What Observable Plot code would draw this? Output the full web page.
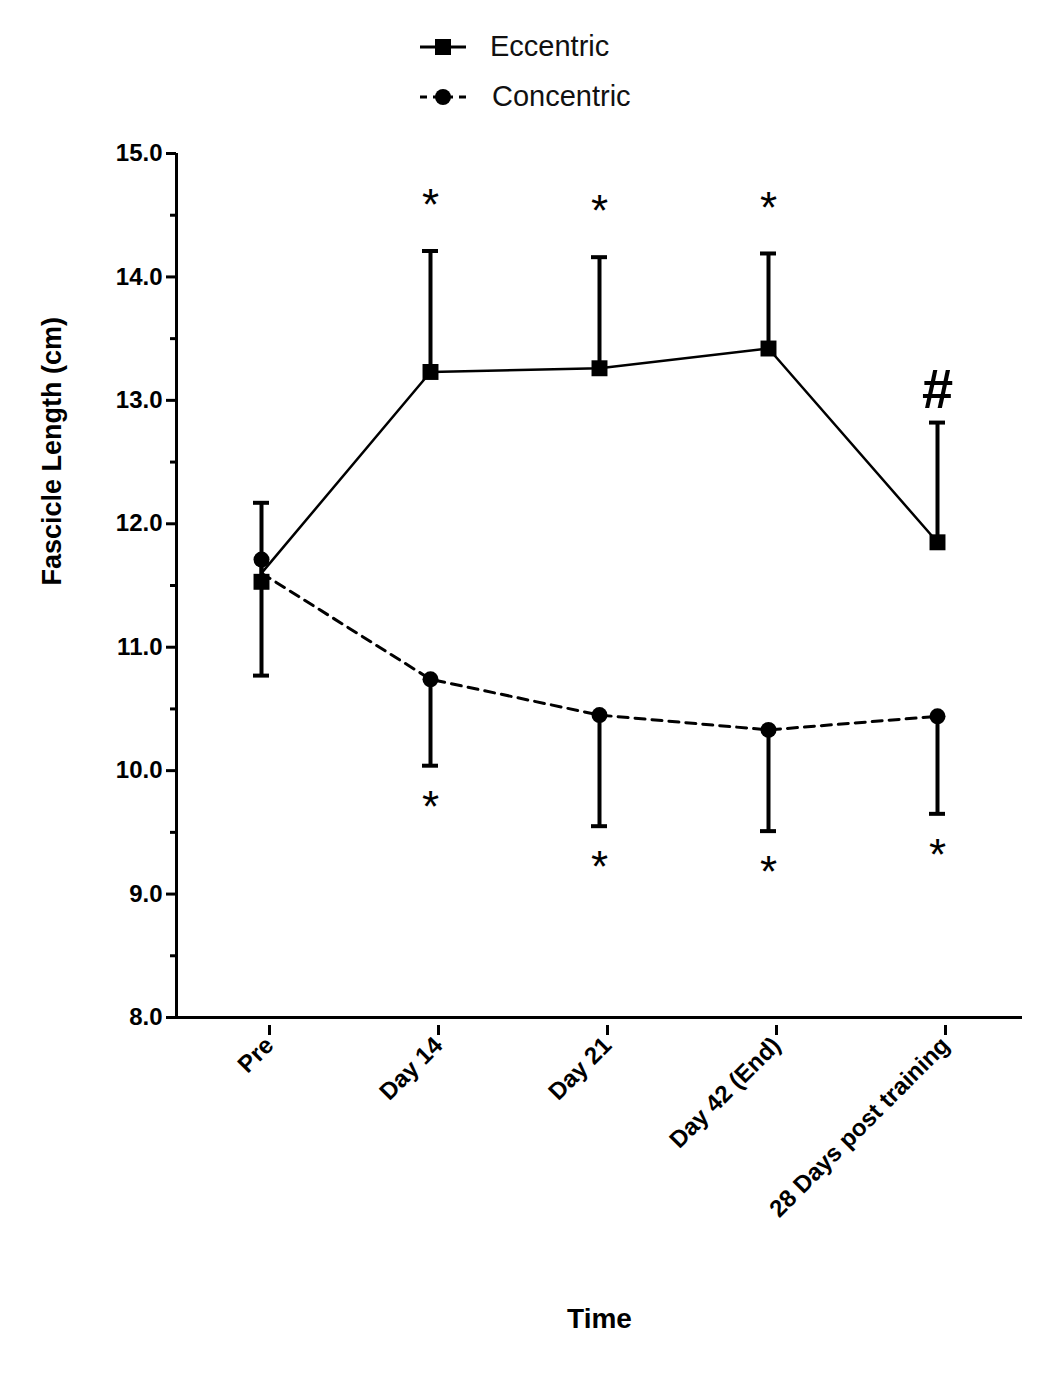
<!DOCTYPE html>
<html><head><meta charset="utf-8">
<script src="https://cdn.jsdelivr.net/npm/d3@7"></script>
<script src="https://cdn.jsdelivr.net/npm/@observablehq/plot@0.6"></script>
<style>
body{margin:0;background:#fff;font-family:Arial,"Liberation Sans",sans-serif;}
#legend{height:130px;position:relative;}
.li{position:absolute;left:418px;display:flex;align-items:center;font-size:29px;color:#111;}
</style></head><body>
<div id="legend">
 <div class="li" style="top:30px"><svg width="60" height="30"><line x1="2" y1="15" x2="48" y2="15" stroke="#000" stroke-width="3"/><rect x="17" y="7" width="16" height="16" fill="#000"/></svg><span style="margin-left:12px">Eccentric</span></div>
 <div class="li" style="top:80px"><svg width="60" height="30"><line x1="2" y1="15" x2="48" y2="15" stroke="#000" stroke-width="3" stroke-dasharray="7,6"/><circle cx="25" cy="15" r="8" fill="#000"/></svg><span style="margin-left:14px">Concentric</span></div>
</div>
<div id="chart"></div>
<script>
const categories = ["Pre","Day 14","Day 21","Day 42 (End)","28 Days post training"];
const eccentric = [11.53, 13.23, 13.26, 13.42, 11.85];
const eccentricUpper = [12.17, 14.21, 14.16, 14.19, 12.82];
const concentric = [11.71, 10.74, 10.45, 10.33, 10.44];
const concentricLower = [10.77, 10.04, 9.55, 9.51, 9.65];
const baseline = 11.6;
const eccStars = ["", "*", "*", "*", "#"];
const conStars = ["", "*", "*", "*", "*"];
const yTicks = [8,9,10,11,12,13,14,15];
const yMinor = [8.5,9.5,10.5,11.5,12.5,13.5,14.5];

const ecc = categories.map((c,i)=>({c, v:eccentric[i], hi:eccentricUpper[i], s:eccStars[i]}));
const con = categories.map((c,i)=>({c, v:concentric[i], lo:concentricLower[i], s:conStars[i]}));
const eccLine = ecc.map((d,i)=>({c:d.c, v: i===0?baseline:d.v}));
const conLine = con.map((d,i)=>({c:d.c, v: i===0?baseline:d.v}));

const plot = Plot.plot({
  width:1044, height:1247,
  marginTop:23, marginBottom:360, marginLeft:176, marginRight:22,
  style:{fontFamily:"Arial, 'Liberation Sans', sans-serif", background:"#fff", color:"#000"},
  x:{type:"point", domain:categories, padding:0.5},
  y:{domain:[8,15]},
  marks:[
    Plot.ruleY([baseline],{x1:categories[0], x2:categories[4], stroke:"#888", strokeWidth:1, strokeDasharray:"1,1", insetRight:-30}),
    Plot.line(eccLine,{x:"c",y:"v",stroke:"#000",strokeWidth:2.5}),
    Plot.line(conLine,{x:"c",y:"v",stroke:"#000",strokeWidth:3,strokeDasharray:"10,7"}),
    Plot.ruleX(ecc,{x:"c",y1:"v",y2:"hi",stroke:"#000",strokeWidth:4}),
    Plot.ruleY(ecc,{x1:"c",x2:"c",y:"hi",stroke:"#000",strokeWidth:4,insetLeft:-8,insetRight:-8}),
    Plot.ruleX(con,{x:"c",y1:"v",y2:"lo",stroke:"#000",strokeWidth:4}),
    Plot.ruleY(con,{x1:"c",x2:"c",y:"lo",stroke:"#000",strokeWidth:4,insetLeft:-8,insetRight:-8}),
    Plot.dot(ecc,{x:"c",y:"v",symbol:"square",r:9,fill:"#000"}),
    Plot.dot(con,{x:"c",y:"v",symbol:"circle",r:8,fill:"#000"}),
    Plot.text(ecc.filter(d=>d.s==="*"),{x:"c",y:"hi",text:"s",dy:-45,fontSize:44,fill:"#000"}),
    Plot.text(ecc.filter(d=>d.s==="#"),{x:"c",y:"hi",text:"s",dy:-32,fontSize:56,fontWeight:"bold",fill:"#000"}),
    Plot.text(con.filter(d=>d.s),{x:"c",y:"lo",text:"s",dy:42,fontSize:44,fill:"#000"}),
    Plot.ruleY([8],{stroke:"#000",strokeWidth:3}),
    Plot.ruleX([categories[0]],{y1:8,y2:15,stroke:"#000",strokeWidth:3,dx:-85}),
    Plot.axisY({ticks:yTicks, tickSize:10, tickWidth:3, tickPadding:4, fontSize:24, fontWeight:"bold", label:null, strokeWidth:3}),
    Plot.axisY({ticks:yMinor, tickSize:6, strokeWidth:3, tickFormat:()=>""}),
    Plot.text(["Fascicle Length (cm)"],{frameAnchor:"left",dx:-124,rotate:-90,fontSize:27,fontWeight:"bold",fill:"#000"}),
    Plot.axisX({tickSize:10, strokeWidth:3, tickRotate:-45, fontSize:24, fontWeight:"bold", label:null, textAnchor:"end", dx:8, dy:8}),
    Plot.text(["Time"],{frameAnchor:"bottom",dy:310,fontSize:28,fontWeight:"bold",fill:"#000"})
  ]
});
document.getElementById("chart").appendChild(plot);
</script>
</body></html>
